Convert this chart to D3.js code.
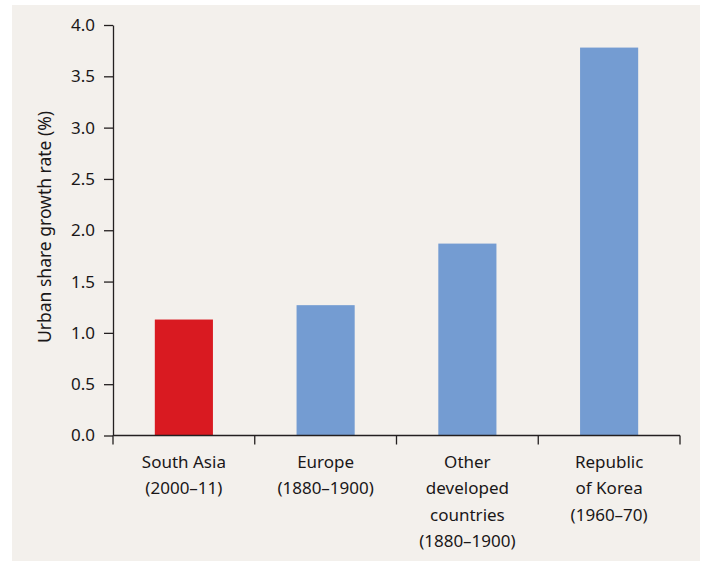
<!DOCTYPE html>
<html>
<head>
<meta charset="utf-8">
<script src="https://cdn.jsdelivr.net/npm/d3@7"></script>
<style>
  html, body { margin: 0; padding: 0; background: #ffffff; }
  body { font-family: "Noto Sans", sans-serif; }
  .axis text { font-size: 17px; fill: #1a1718; font-family: "Noto Sans", sans-serif; }
  .axis path, .axis line { stroke: #231f20; stroke-width: 1.3px; }
</style>
</head>
<body>
<script>
var categories = [
  ["South Asia", "(2000\u201311)"],
  ["Europe", "(1880\u20131900)"],
  ["Other", "developed", "countries", "(1880\u20131900)"],
  ["Republic", "of Korea", "(1960\u201370)"]
];
var values = [1.13, 1.27, 1.87, 3.78];
var barColors = ["#d91a21", "#749cd2", "#749cd2", "#749cd2"];
var yTicks = [0, 0.5, 1, 1.5, 2, 2.5, 3, 3.5, 4];
var yTitle = "Urban share growth rate (%)";

var width = 703, height = 561;
var margin = {left: 113, right: 23, top: 25, bottom: 125.5};

var svg = d3.select("body").append("svg")
    .attr("width", width)
    .attr("height", height);

// panel background
svg.append("rect")
  .attr("x", 12)
  .attr("y", 5)
  .attr("width", 688)
  .attr("height", height - 5)
  .attr("fill", "#f3f0ec");

var x = d3.scaleBand()
  .domain(d3.range(categories.length))
  .range([margin.left, width - margin.right])
  .padding(0);

var y = d3.scaleLinear()
  .domain([0, 4])
  .range([height - margin.bottom, margin.top]);

var barW = x.bandwidth() * 0.41;

// bars
svg.selectAll(".bar")
  .data(values)
.enter().append("rect")
  .attr("class", "bar")
  .attr("x", function(d,i){ return x(i) + (x.bandwidth() - barW)/2; })
  .attr("y", function(d){ return y(d); })
  .attr("width", barW)
  .attr("height", function(d){ return y(0) - y(d); })
  .attr("fill", function(d,i){ return barColors[i]; });

// y axis
var yAxis = svg.append("g")
  .attr("class", "axis")
  .attr("transform", "translate(" + margin.left + ",0)")
  .call(d3.axisLeft(y).tickValues(yTicks).tickFormat(d3.format(".1f")).tickSize(9).tickSizeOuter(0).tickPadding(9));

// x axis: ticks at the band edges
var xEdges = d3.range(categories.length + 1).map(function(i){
  return i < categories.length ? x(i) : x(i-1) + x.step();
});
var xg = svg.append("g")
  .attr("class", "axis")
  .attr("transform", "translate(0," + y(0) + ")");
xg.append("line")
  .attr("x1", xEdges[0]).attr("x2", xEdges[xEdges.length-1])
  .attr("y1", 0).attr("y2", 0);
xg.selectAll(".xtick")
  .data(xEdges)
.enter().append("line")
  .attr("class", "xtick")
  .attr("x1", function(d){ return d; })
  .attr("x2", function(d){ return d; })
  .attr("y1", 0)
  .attr("y2", 9);

var labels = xg.selectAll(".xlabel")
  .data(categories)
.enter().append("text")
  .attr("class", "xlabel")
  .attr("text-anchor", "middle")
  .attr("transform", function(d,i){
    return "translate(" + (x(i) + x.bandwidth()/2) + ",32)";
  });
labels.selectAll("tspan")
  .data(function(d){ return d; })
.enter().append("tspan")
  .attr("x", 0)
  .attr("y", function(d,i){ return i*26.5; })
  .text(String);

// y title
svg.append("text")
  .attr("transform", "translate(51," + 227 + ")rotate(-90)")
  .attr("text-anchor", "middle")
  .style("font-size", "17.5px")
  .style("fill", "#1a1718")
  .text(yTitle);
</script>
</body>
</html>
